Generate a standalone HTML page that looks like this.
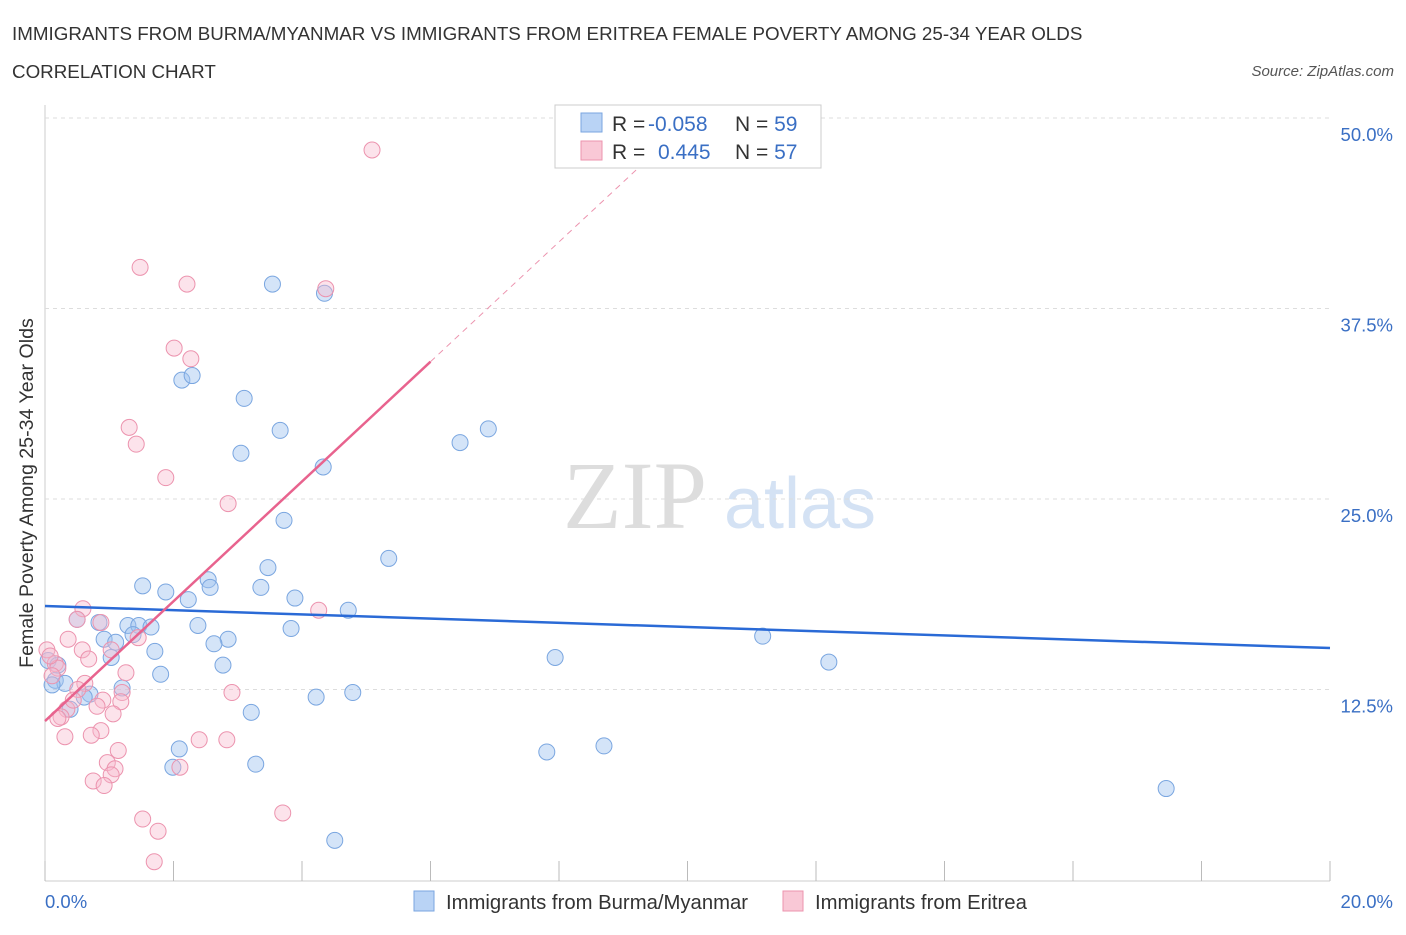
<!DOCTYPE html>
<html><head><meta charset="utf-8"><style>
body{margin:0;background:#fff;font-family:"Liberation Sans",sans-serif;}
</style></head><body>
<svg id="chart" width="1406" height="930" xmlns="http://www.w3.org/2000/svg" style="font-family:'Liberation Sans',sans-serif">
<text x="12" y="40" font-size="18.8" fill="#333">IMMIGRANTS FROM BURMA/MYANMAR VS IMMIGRANTS FROM ERITREA FEMALE POVERTY AMONG 25-34 YEAR OLDS</text>
<text x="12" y="78" font-size="18.8" fill="#333">CORRELATION CHART</text>
<text x="1394" y="76" font-size="15" fill="#555" text-anchor="end" font-style="italic">Source: ZipAtlas.com</text>
<text x="635" y="528" font-size="96" fill="#ddd" text-anchor="middle" font-family="Liberation Serif">ZIP</text>
<text x="800" y="528" font-size="72" fill="#d4e2f4" text-anchor="middle">atlas</text>
<g id="grid"></g>
<g id="pts"></g>
<g id="trend"></g>
<text x="33" y="493" font-size="19.6" fill="#333" text-anchor="middle" transform="rotate(-90 33 493)">Female Poverty Among 25-34 Year Olds</text>
<text x="45" y="908" font-size="18.5" fill="#3a6fc4">0.0%</text>
<text x="1393" y="908" font-size="18.5" fill="#3a6fc4" text-anchor="end">20.0%</text>
<g>
<rect x="414" y="891" width="20" height="20" fill="#b9d3f5" stroke="#7aa6e0"/>
<text x="446" y="909" font-size="20.3" fill="#333">Immigrants from Burma/Myanmar</text>
<rect x="783" y="891" width="20" height="20" fill="#f9c8d6" stroke="#ec93ae"/>
<text x="815" y="909" font-size="20.3" fill="#333">Immigrants from Eritrea</text>
</g>
<g>
<rect x="555" y="105" width="266" height="63" fill="#fff" stroke="#ccc"/>
<rect x="581" y="113" width="21" height="19" fill="#b9d3f5" stroke="#7aa6e0"/>
<rect x="581" y="141" width="21" height="19" fill="#f9c8d6" stroke="#ec93ae"/>
<text x="612" y="131" font-size="21" fill="#333">R = <tspan fill="#3a6fc4" x="648">-0.058</tspan><tspan x="735">N = </tspan><tspan fill="#3a6fc4">59</tspan></text>
<text x="612" y="159" font-size="21" fill="#333">R = <tspan fill="#3a6fc4" x="658">0.445</tspan><tspan x="735">N = </tspan><tspan fill="#3a6fc4">57</tspan></text>
</g>
</svg>
<script>
const yTicks=[12.5,25,37.5,50];
const yTickLabels=["12.5%","25.0%","37.5%","50.0%"];
const xTicks=[0,2,4,6,8,10,12,14,16,18,20];
const blueX=[3.54,4.35,2.13,2.29,3.10,3.66,3.05,4.33,3.72,6.46,6.90,5.35,3.47,1.52,2.54,2.57,3.36,1.88,2.23,3.89,4.72,0.50,0.84,1.29,1.46,1.65,2.38,3.83,0.92,1.10,1.37,2.85,2.63,1.71,1.03,2.77,1.80,0.16,0.31,0.11,0.70,1.20,4.22,4.79,0.39,3.21,2.09,1.99,3.28,4.51,7.94,11.17,12.20,7.81,8.70,17.45,0.05,0.20,0.61];
const blueY=[39.1,38.5,32.8,33.1,31.6,29.5,28.0,27.1,23.6,28.7,29.6,21.1,20.5,19.3,19.7,19.2,19.2,18.9,18.4,18.5,17.7,17.1,16.9,16.7,16.7,16.6,16.7,16.5,15.8,15.6,16.1,15.8,15.5,15.0,14.6,14.1,13.5,13.1,12.9,12.8,12.2,12.6,12.0,12.3,11.2,11.0,8.6,7.4,7.6,2.6,14.6,16.0,14.3,8.4,8.8,6.0,14.4,14.1,12.0];
const pinkX=[5.09,1.48,2.21,4.37,2.01,2.27,1.31,1.42,1.88,2.85,0.59,0.50,0.87,1.45,0.36,1.03,0.58,0.68,0.16,0.20,0.03,0.62,1.20,2.91,0.51,0.90,1.18,0.34,0.81,1.06,0.25,0.20,0.87,0.72,0.31,2.40,2.83,1.14,0.97,1.09,1.03,0.75,0.92,2.10,3.70,1.52,1.76,1.70,4.26,1.26,0.44,0.11,0.08];
const pinkY=[47.9,40.2,39.1,38.8,34.9,34.2,29.7,28.6,26.4,24.7,17.8,17.1,16.9,15.9,15.8,15.1,15.1,14.5,14.2,13.9,15.1,12.9,12.3,12.3,12.5,11.8,11.7,11.2,11.4,10.9,10.7,10.6,9.8,9.5,9.4,9.2,9.2,8.5,7.7,7.3,6.9,6.5,6.2,7.4,4.4,4.0,3.2,1.2,17.7,13.6,11.8,13.4,14.7];
const blueTrend=[17.98,15.22];
const pinkTrend=[10.43,3.93];
const NS="http://www.w3.org/2000/svg";
const X=v=>45+v/20*1285, Y=v=>880-v*15.24;
function mk(t,a,p){const e=document.createElementNS(NS,t);for(const k in a)e.setAttribute(k,a[k]);p.appendChild(e);return e;}
const grid=document.getElementById('grid');
mk('line',{x1:45,y1:105,x2:45,y2:881,stroke:'#ccc'},grid);
mk('line',{x1:45,y1:881,x2:1330,y2:881,stroke:'#ccc'},grid);
yTicks.forEach((t,i)=>{
 const l=mk('line',{x1:45,y1:Y(t),x2:1330,y2:Y(t),stroke:'#ddd','stroke-dasharray':'4,4'},grid);
 
 
 const tx=mk('text',{x:1393,y:Y(t)+23,'font-size':18.5,fill:'#3a6fc4','text-anchor':'end'},grid);
 tx.textContent=yTickLabels[i];
 
 
});
xTicks.forEach(t=>{
 const l=mk('line',{x1:X(t),y1:861,x2:X(t),y2:881,stroke:'#bbb'},grid);
 
 
});
const pts=document.getElementById('pts');
blueX.forEach((v,i)=>{
 const c=mk('circle',{cx:X(v),cy:Y(blueY[i]),r:8,fill:'rgba(160,195,240,0.45)',stroke:'#7aa6e0','stroke-width':1},pts);
 
 
});
pinkX.forEach((v,i)=>{
 const c=mk('circle',{cx:X(v),cy:Y(pinkY[i]),r:8,fill:'rgba(248,185,205,0.4)',stroke:'#ec93ae','stroke-width':1},pts);
 
 
});
const tr=document.getElementById('trend');
const bl=mk('line',{x1:X(0),y1:Y(blueTrend[0]),x2:X(20),y2:Y(blueTrend[1]),stroke:'#2a6ad6','stroke-width':2.5},tr);


const pe=v=>pinkTrend[0]+pinkTrend[1]*v;
const pxEnd=(50-pinkTrend[0])/pinkTrend[1];
const pd=mk('line',{x1:X(6),y1:Y(pe(6)),x2:X(pxEnd),y2:Y(50),stroke:'#ec93ae','stroke-width':1,'stroke-dasharray':'6,5'},tr);


const pl=mk('line',{x1:X(0),y1:Y(pe(0)),x2:X(6),y2:Y(pe(6)),stroke:'#e8638e','stroke-width':2.5},tr);


</script>
</body></html>
